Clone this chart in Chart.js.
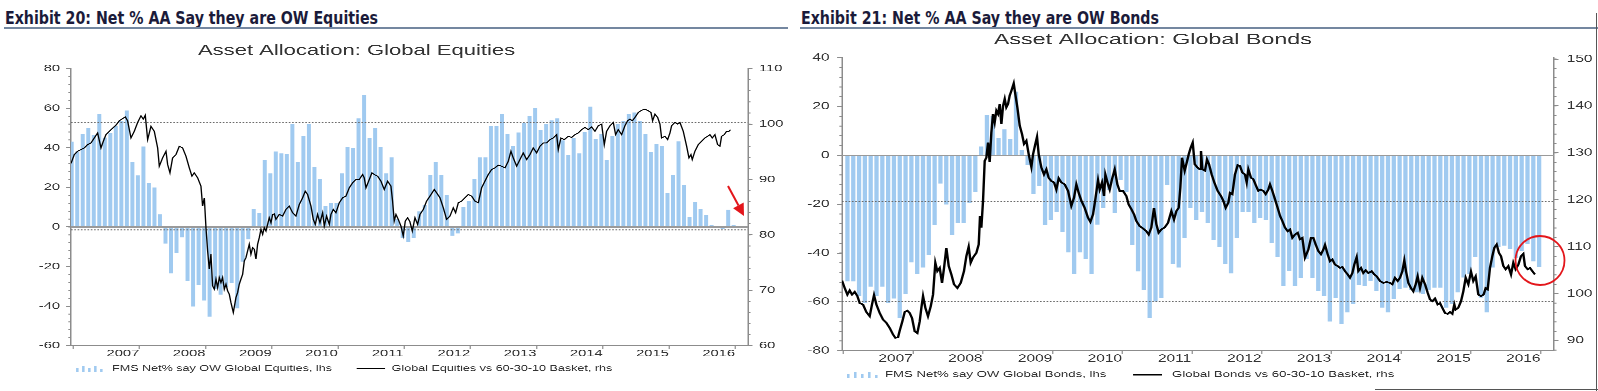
<!DOCTYPE html>
<html>
<head>
<meta charset="utf-8">
<title>FMS asset allocation</title>
<script src="https://cdn.jsdelivr.net/npm/chart.js@4.4.1/dist/chart.umd.min.js"></script>
<style>
  html, body { margin: 0; padding: 0; background: #fff; }
  body { position: relative; width: 1598px; height: 391px; overflow: hidden; }
  .exhibit { position: absolute; top: 9px; margin: 0; font: bold 18px/18px "Liberation Sans Narrow", "DejaVu Sans Condensed", "Liberation Sans", sans-serif; font-stretch: condensed; color: #1b1b3a; white-space: nowrap; transform-origin: 0 0; }
  .rule { position: absolute; top: 27px; height: 2px; background: #7487a0; }
  .plot { position: absolute; top: 30px; transform: scaleX(1.5); transform-origin: 0 0; }
  svg { position: absolute; left: 0; top: 0; pointer-events: none; }
</style>
</head>
<body>
<div class="exhibit" id="t20" style="left:5px">Exhibit 20: Net % AA Say they are OW Equities</div>
<div class="rule" style="left:4px;width:784px"></div>
<div class="exhibit" id="t21" style="left:801px">Exhibit 21: Net % AA Say they are OW Bonds</div>
<div class="rule" style="left:800px;width:798px"></div>

<canvas id="eq" class="plot" width="527" height="361" style="left:0"></canvas>
<canvas id="bd" class="plot" width="539" height="361" style="left:790px"></canvas>

<svg width="1598" height="391">
  <line x1="728" y1="186" x2="738.5" y2="205.5" stroke="#e3161b" stroke-width="2"/>
  <polygon points="744,216 733.1,208.2 743.7,202.6" fill="#e3161b"/>
  <circle cx="1540" cy="260.5" r="24.5" fill="none" stroke="#e3161b" stroke-width="1.8"/>
  <line x1="1596.5" y1="13" x2="1596.5" y2="391" stroke="#555" stroke-width="1"/>
  <line x1="1375" y1="389.5" x2="1598" y2="389.5" stroke="#555" stroke-width="1"/>
</svg>

<script>
const years = ['2007', '2008', '2009', '2010', '2011', '2012', '2013', '2014', '2015', '2016'];

const eqLeftTicks = [-60, -40, -20, 0, 20, 40, 60, 80];
const eqRightTicks = [60, 70, 80, 90, 100, 110];
const bondLeftTicks = [-80, -60, -40, -20, 0, 20, 40];
const bondRightTicks = [90, 100, 110, 120, 130, 140, 150];

// FMS net % of asset allocators overweight, one survey a month
const eqFirstSurvey = [2006, 9];
const eqNetOW = [
  43, 38, 46.7, 49.7, 46.5, 56.8, 45, 47.5, 51, 53.5,
  58.7, 32.5, 25.9, 40.5, 22, 19.8, 6.2, -8.2, -23.3, -13.1,
  -5.1, -27, -40, -29.1, -37, -45.1, -31, -34, -30, -28,
  -41, -17.3, -6.1, 8.8, 6.8, 33.7, 26.9, 38, 37, 36.7,
  51.9, 32.5, 45.8, 51.9, 30, 24.1, 10.6, 11.8, 12, 26.9,
  40.4, 39.6, 54.7, 66.7, 44.8, 49.7, 40.4, 26.9, 35, 4,
  -5.3, -7.3, -5.3, 7.7, 11, 26, 32.5, 26, 16, -4.2,
  -3.1, 10, 13, 24, 35, 35, 50.7, 50.7, 56.8, 46.7,
  40.6, 47.6, 52.2, 55.8, 59.8, 48.8, 51.8, 53.7, 54.7, 43.6,
  36.2, 44.8, 37, 48, 60.7, 44.4, 46.7, 33.6, 45.7, 52,
  53.5, 56.9, 57.7, 53.4, 46.7, 37.9, 41.7, 40.6, 17, 26,
  43.1, 21, 5, 12.6, 8.9, 5.9, 0.8, 0.3, -0.8, 8.6,
  0.8
];

const bondFirstSurvey = [2006, 10];
const bondNetOW = [
  -51.5, -51.5, -57.5, -60.3, -53.6, -57.6, -53.6, -60.3, -58.5, -66.6,
  -56.7, -43.7, -48.6, -45.8, -40.6, -28.5, -11.4, -20, -32.6, -27.6,
  -27.6, -19.3, -14.8, 3.5, 16.5, 16, 7, 10.5, 6.5, 26,
  2, -3.8, -15.6, -12.4, -28.5, -26.4, -23, -31.2, -39.6, -48.5,
  -39.6, -42.3, -48.5, -28.2, -21.4, -14, -23.4, -10, -15, -36.7,
  -47.4, -54.9, -66.6, -59.7, -58.4, -12, -44.4, -45.8, -33.7, -21.4,
  -26.2, -23.2, -27.5, -34.4, -37.3, -44.4, -48.2, -33.7, -23.2, -23.2,
  -27.5, -25.5, -26.2, -35.8, -41.4, -53.3, -47.1, -53.3, -50.1, -42.3,
  -50.1, -55.3, -57.4, -67.9, -58.4, -69, -64.2, -60.8, -52.9, -53.3,
  -51.2, -55.3, -62.2, -64.2, -58.8, -54.7, -54, -55, -56, -56.7,
  -55.1, -54, -54, -62.2, -60.8, -56, -49.9, -48.5, -41.4, -58.1,
  -64.2, -45.8, -37.5, -36.8, -38.2, -41.9, -38.9, -36.2, -43.3, -45.5
];

// dotted bands on the lhs
const eqBands = [52.7, -1.5];
const bondBands = [-19, -60];

// relative performance vs the 60-30-10 basket (rhs), [decimal year, index]
const eqRelative = [
  [2006.716,92.9],[2006.766,94.5],[2006.816,95.1],[2006.867,95.4],[2006.917,95.7],[2006.967,96.3],
  [2007.018,96.6],[2007.068,97.5],[2007.118,98.4],[2007.169,95.7],[2007.204,96.9],[2007.244,98.1],
  [2007.320,99.0],[2007.395,99.8],[2007.446,100.6],[2007.496,101.0],[2007.536,101.3],[2007.571,100.6],
  [2007.622,97.5],[2007.672,98.7],[2007.723,100.3],[2007.773,101.5],[2007.808,100.9],[2007.838,101.6],
  [2007.874,97.2],[2007.924,99.6],[2007.974,98.7],[2008.025,95.7],[2008.050,92.4],[2008.100,93.9],
  [2008.151,95.1],[2008.176,92.7],[2008.211,91.2],[2008.251,93.9],[2008.302,94.5],[2008.352,96.0],
  [2008.402,95.7],[2008.453,94.2],[2008.503,92.1],[2008.543,90.6],[2008.578,91.2],[2008.629,90.3],
  [2008.679,88.8],[2008.704,85.2],[2008.730,86.7],[2008.755,81.3],[2008.780,77.1],[2008.805,73.8],
  [2008.830,76.5],[2008.855,70.8],[2008.881,70.2],[2008.906,72.0],[2008.931,70.5],[2008.956,72.3],
  [2008.981,71.4],[2009.006,72.3],[2009.032,70.2],[2009.057,71.1],[2009.082,69.9],[2009.107,69.3],
  [2009.132,67.8],[2009.168,66.0],[2009.208,68.7],[2009.233,69.6],[2009.258,71.1],[2009.283,72.0],
  [2009.309,72.9],[2009.334,75.3],[2009.359,75.9],[2009.384,77.1],[2009.409,78.3],[2009.434,76.5],
  [2009.460,77.7],[2009.485,77.4],[2009.510,75.6],[2009.535,78.3],[2009.560,79.5],[2009.586,81.0],
  [2009.611,80.1],[2009.636,81.3],[2009.661,80.7],[2009.686,81.9],[2009.711,83.1],[2009.737,82.2],
  [2009.762,83.7],[2009.787,83.8],[2009.812,82.8],[2009.862,83.7],[2009.913,83.4],[2009.963,84.6],
  [2010.013,85.2],[2010.064,84.0],[2010.114,83.4],[2010.165,85.5],[2010.215,86.7],[2010.255,87.9],
  [2010.290,87.3],[2010.341,85.2],[2010.376,82.8],[2010.406,81.9],[2010.441,83.7],[2010.477,82.2],
  [2010.517,84.0],[2010.542,81.6],[2010.577,83.4],[2010.618,81.9],[2010.643,83.7],[2010.678,84.6],
  [2010.718,84.0],[2010.769,85.8],[2010.819,86.7],[2010.869,87.0],[2010.920,88.5],[2010.970,89.4],
  [2011.020,90.0],[2011.071,90.0],[2011.121,90.9],[2011.146,90.3],[2011.172,88.5],[2011.222,90.0],
  [2011.262,91.2],[2011.297,90.9],[2011.348,90.6],[2011.398,89.7],[2011.448,88.2],[2011.499,89.7],
  [2011.549,88.8],[2011.574,86.1],[2011.599,82.5],[2011.625,83.7],[2011.660,82.8],[2011.700,81.6],
  [2011.735,79.8],[2011.766,82.5],[2011.801,83.1],[2011.835,82.4],[2011.872,80.7],[2011.912,83.1],
  [2011.952,81.9],[2011.988,83.7],[2012.038,84.6],[2012.088,86.1],[2012.139,87.0],[2012.204,88.2],
  [2012.239,87.6],[2012.290,86.7],[2012.340,84.9],[2012.390,82.8],[2012.441,83.4],[2012.491,84.9],
  [2012.526,84.0],[2012.567,85.8],[2012.617,86.1],[2012.667,86.7],[2012.718,87.3],[2012.768,87.0],
  [2012.818,86.1],[2012.869,85.8],[2012.919,88.5],[2012.969,89.7],[2013.020,90.9],[2013.070,91.8],
  [2013.120,92.1],[2013.171,92.6],[2013.221,92.4],[2013.272,92.1],[2013.322,93.3],[2013.362,95.1],
  [2013.397,93.9],[2013.448,92.4],[2013.498,93.6],[2013.548,94.8],[2013.599,93.6],[2013.649,94.5],
  [2013.699,95.7],[2013.750,94.8],[2013.800,96.0],[2013.851,96.6],[2013.901,96.6],[2013.951,97.2],
  [2014.002,97.5],[2014.052,98.1],[2014.077,95.4],[2014.117,97.5],[2014.168,97.2],[2014.228,97.8],
  [2014.279,97.6],[2014.329,98.1],[2014.379,98.4],[2014.430,99.0],[2014.480,99.4],[2014.530,99.0],
  [2014.581,99.5],[2014.631,98.7],[2014.681,99.7],[2014.732,100.0],[2014.772,96.3],[2014.807,98.7],
  [2014.858,99.7],[2014.908,100.3],[2014.943,98.1],[2014.983,99.0],[2015.034,98.1],[2015.084,99.7],
  [2015.124,100.6],[2015.160,100.9],[2015.195,100.6],[2015.235,101.2],[2015.286,102.1],[2015.336,102.5],
  [2015.386,102.7],[2015.437,102.4],[2015.477,102.1],[2015.502,100.6],[2015.537,101.8],[2015.578,101.2],
  [2015.613,100.0],[2015.638,97.5],[2015.688,97.8],[2015.729,97.2],[2015.764,98.4],[2015.789,99.7],
  [2015.839,100.3],[2015.880,100.0],[2015.915,100.3],[2015.965,98.7],[2016.016,96.0],[2016.051,93.9],
  [2016.081,94.5],[2016.101,93.6],[2016.141,95.1],[2016.192,96.3],[2016.242,96.9],[2016.292,97.5],
  [2016.333,97.8],[2016.368,98.1],[2016.403,97.5],[2016.443,98.1],[2016.484,96.3],[2016.519,96.0],
  [2016.544,97.8],[2016.584,98.1],[2016.620,98.7],[2016.655,98.7],[2016.680,99.0]
];

const bondRelative = [
  [2006.732,102.8],[2006.771,101.2],[2006.809,99.8],[2006.842,100.7],[2006.876,99.8],[2006.914,100.4],
  [2006.952,99.5],[2006.986,98.0],[2007.033,97.7],[2007.081,96.1],[2007.129,95.2],[2007.162,97.7],
  [2007.191,99.7],[2007.225,97.7],[2007.272,95.9],[2007.320,94.5],[2007.368,93.8],[2007.416,92.7],
  [2007.464,91.3],[2007.497,90.6],[2007.535,90.7],[2007.559,92.1],[2007.597,94.1],[2007.631,96.1],
  [2007.669,96.4],[2007.702,95.9],[2007.736,94.8],[2007.774,92.0],[2007.812,91.6],[2007.846,94.1],
  [2007.870,97.0],[2007.894,99.5],[2007.927,97.0],[2007.965,95.2],[2008.004,97.3],[2008.037,99.8],
  [2008.070,106.6],[2008.099,104.8],[2008.133,105.5],[2008.166,102.3],[2008.195,105.5],[2008.228,109.8],
  [2008.262,105.9],[2008.300,104.1],[2008.338,102.0],[2008.386,101.2],[2008.434,102.3],[2008.481,104.8],
  [2008.515,108.0],[2008.548,110.0],[2008.577,106.6],[2008.610,107.7],[2008.658,108.7],[2008.692,110.5],
  [2008.711,116.6],[2008.730,114.1],[2008.754,119.8],[2008.778,128.3],[2008.802,129.0],[2008.826,132.2],
  [2008.849,128.0],[2008.873,134.3],[2008.897,138.3],[2008.921,136.5],[2008.945,139.0],[2008.969,138.3],
  [2008.993,140.4],[2009.017,136.1],[2009.041,140.0],[2009.065,141.5],[2009.088,139.7],[2009.112,140.4],
  [2009.136,142.2],[2009.160,143.2],[2009.194,144.8],[2009.217,142.5],[2009.246,139.7],[2009.280,135.8],
  [2009.313,134.0],[2009.342,131.9],[2009.375,132.6],[2009.409,129.7],[2009.447,127.0],[2009.471,129.7],
  [2009.504,131.9],[2009.528,133.4],[2009.552,129.7],[2009.590,126.9],[2009.628,125.4],[2009.662,126.5],
  [2009.695,124.7],[2009.734,124.0],[2009.772,123.7],[2009.805,122.2],[2009.839,124.6],[2009.877,123.7],
  [2009.925,123.3],[2009.973,121.9],[2010.020,118.7],[2010.059,120.5],[2010.092,123.3],[2010.125,121.5],
  [2010.164,119.8],[2010.211,118.3],[2010.259,116.2],[2010.293,115.3],[2010.331,116.9],[2010.364,120.1],
  [2010.403,124.2],[2010.427,122.2],[2010.460,123.7],[2010.489,120.8],[2010.508,125.4],[2010.546,123.3],
  [2010.570,122.2],[2010.603,124.4],[2010.642,126.5],[2010.680,123.3],[2010.713,121.9],[2010.761,121.9],
  [2010.809,120.8],[2010.842,119.0],[2010.881,118.0],[2010.919,116.9],[2010.952,115.5],[2011.000,114.4],
  [2011.048,113.9],[2011.096,113.3],[2011.129,112.6],[2011.167,114.1],[2011.205,118.3],[2011.239,114.8],
  [2011.272,113.0],[2011.311,113.7],[2011.358,114.1],[2011.406,115.1],[2011.454,117.6],[2011.492,115.8],
  [2011.526,117.6],[2011.559,118.3],[2011.583,122.6],[2011.607,129.0],[2011.645,126.2],[2011.674,127.9],
  [2011.703,129.7],[2011.731,131.1],[2011.760,132.2],[2011.789,127.6],[2011.827,126.9],[2011.860,126.5],
  [2011.879,130.4],[2011.898,126.5],[2011.936,126.2],[2011.965,128.6],[2011.994,127.6],[2012.032,125.4],
  [2012.070,123.7],[2012.118,121.9],[2012.166,120.8],[2012.199,119.8],[2012.233,118.3],[2012.271,119.4],
  [2012.295,121.5],[2012.328,121.2],[2012.366,125.4],[2012.405,127.4],[2012.438,127.2],[2012.472,125.8],
  [2012.510,125.4],[2012.534,123.7],[2012.558,126.5],[2012.596,124.7],[2012.629,124.4],[2012.668,123.0],
  [2012.701,121.9],[2012.734,122.2],[2012.773,121.9],[2012.806,121.2],[2012.844,122.2],[2012.868,123.3],
  [2012.902,121.9],[2012.940,120.1],[2012.978,118.3],[2013.012,116.6],[2013.045,115.5],[2013.083,114.1],
  [2013.122,113.3],[2013.155,113.7],[2013.189,111.9],[2013.227,112.6],[2013.265,113.0],[2013.298,111.6],
  [2013.332,111.9],[2013.370,107.7],[2013.418,109.4],[2013.456,111.9],[2013.490,111.9],[2013.523,110.5],
  [2013.561,109.1],[2013.599,108.4],[2013.633,109.4],[2013.657,110.4],[2013.695,108.4],[2013.729,106.9],
  [2013.762,107.3],[2013.800,106.2],[2013.838,105.9],[2013.872,105.5],[2013.905,105.7],[2013.944,104.8],
  [2013.982,104.1],[2014.015,103.4],[2014.049,104.4],[2014.077,106.2],[2014.111,107.8],[2014.135,104.8],
  [2014.173,105.5],[2014.206,104.4],[2014.240,105.0],[2014.278,104.4],[2014.326,104.8],[2014.364,104.1],
  [2014.398,103.7],[2014.445,102.7],[2014.493,102.3],[2014.541,102.5],[2014.589,102.3],[2014.622,102.0],
  [2014.660,103.4],[2014.699,102.7],[2014.732,103.4],[2014.766,104.8],[2014.794,107.1],[2014.818,104.8],
  [2014.852,102.3],[2014.890,101.2],[2014.923,100.5],[2014.957,102.0],[2014.985,103.7],[2015.019,101.2],
  [2015.052,103.4],[2015.091,102.0],[2015.129,100.2],[2015.162,98.8],[2015.196,98.4],[2015.234,99.0],
  [2015.272,97.7],[2015.306,98.0],[2015.339,97.0],[2015.377,95.9],[2015.415,95.7],[2015.449,96.1],
  [2015.482,95.7],[2015.511,97.7],[2015.530,96.6],[2015.568,97.0],[2015.607,98.4],[2015.640,100.5],
  [2015.674,103.4],[2015.712,102.0],[2015.750,104.7],[2015.783,102.7],[2015.817,103.7],[2015.855,99.8],
  [2015.893,99.5],[2015.931,99.8],[2015.960,101.2],[2015.989,100.9],[2016.022,105.5],[2016.056,108.0],
  [2016.085,109.8],[2016.118,110.5],[2016.151,108.7],[2016.180,108.0],[2016.214,105.9],[2016.247,105.2],
  [2016.285,105.9],[2016.324,104.1],[2016.357,106.6],[2016.390,105.2],[2016.429,106.2],[2016.467,108.0],
  [2016.500,108.5],[2016.524,105.9],[2016.563,105.2],[2016.596,105.5],[2016.630,104.8],[2016.668,104.1]
];

const eqLegend = ['FMS Net% say OW Global Equities, lhs', 'Global Equities vs 60-30-10 Basket, rhs'];
const bondLegend = ['FMS Net% say OW Global Bonds, lhs', 'Global Bonds vs 60-30-10 Basket, rhs'];

const FONT = '"Liberation Sans", Arial, sans-serif';
const BAR = '#a0caf0';
const AXIS = '#8c8c8c';
const TEXT = '#333';

// surveys are dated a little after mid-month
function surveyDate(first, k) {
  return first[0] + (first[1] - 1 + k + 0.72) / 12;
}

function minorTicks(chart, id, step, len) {
  const s = chart.scales[id], ctx = chart.ctx;
  const left = s.position === 'left';
  const x0 = left ? s.right : s.left;
  ctx.save();
  ctx.strokeStyle = AXIS;
  ctx.lineWidth = 1;
  ctx.beginPath();
  for (let i = Math.ceil(s.min / step); i * step <= s.max + 1e-9; i++) {
    const y = s.getPixelForValue(i * step);
    ctx.moveTo(x0, y);
    ctx.lineTo(left ? x0 - len : x0 + len, y);
  }
  ctx.stroke();
  ctx.restore();
}

const decor = {
  id: 'decor',
  afterDatasetDraw(chart, args, o) {
    if (args.meta.type !== 'bar') return;
    const ctx = chart.ctx, a = chart.chartArea, y = chart.scales.y;
    ctx.save();
    ctx.strokeStyle = '#9a9a9a';
    ctx.lineWidth = 1.3;
    ctx.beginPath();
    ctx.moveTo(a.left, y.getPixelForValue(0));
    ctx.lineTo(a.right, y.getPixelForValue(0));
    ctx.stroke();
    ctx.strokeStyle = '#6a6a6a';
    ctx.lineWidth = 1;
    ctx.setLineDash([1.1, 1.1]);
    o.bands.forEach(v => {
      const py = y.getPixelForValue(v);
      ctx.beginPath();
      ctx.moveTo(a.left, py);
      ctx.lineTo(a.right, py);
      ctx.stroke();
    });
    ctx.restore();
  },
  afterDraw(chart, args, o) {
    const ctx = chart.ctx, L = o.legend;
    minorTicks(chart, 'y', 4, 1.8);
    minorTicks(chart, 'y1', 2, 1.7);
    ctx.save();
    ctx.fillStyle = TEXT;
    ctx.font = o.titleSize + 'px ' + FONT;
    ctx.textAlign = 'center';
    ctx.textBaseline = 'alphabetic';
    ctx.fillText(o.title, o.titleX, o.titleY);

    // legend
    ctx.fillStyle = BAR;
    [4, 6, 4, 6, 3].forEach((h, i) => ctx.fillRect(L.barX + i * L.barGap, L.y + 3 - h, 1.7, h));
    ctx.fillStyle = TEXT;
    ctx.font = L.size + 'px ' + FONT;
    ctx.textAlign = 'left';
    ctx.textBaseline = 'middle';
    ctx.fillText(L.labels[0], L.textX, L.y);
    ctx.fillText(L.labels[1], L.text2X, L.y);
    ctx.strokeStyle = '#000';
    ctx.lineWidth = L.lineW;
    ctx.beginPath();
    ctx.moveTo(L.lineX0, L.y);
    ctx.lineTo(L.lineX1, L.y);
    ctx.stroke();
    ctx.restore();
  }
};

function buildChart(id, c) {
  return new Chart(document.getElementById(id), {
    type: 'bar',
    data: {
      datasets: [
        {
          type: 'line',
          data: c.line.map(p => ({ x: p[0], y: p[1] })),
          yAxisID: 'y1',
          borderColor: '#000',
          borderWidth: c.lineWidth,
          pointRadius: 0,
          tension: 0,
          order: 0
        },
        {
          type: 'bar',
          data: c.bars.map((v, k) => ({ x: surveyDate(c.first, k), y: v })),
          yAxisID: 'y',
          backgroundColor: BAR,
          borderWidth: 0,
          barThickness: c.barWidth,
          order: 1
        }
      ]
    },
    options: {
      responsive: false,
      animation: false,
      devicePixelRatio: 3,
      events: [],
      layout: { padding: { left: 0, right: 0, top: c.area.top, bottom: 0 } },
      plugins: {
        legend: { display: false },
        tooltip: { enabled: false },
        decor: c.decor
      },
      scales: {
        x: {
          type: 'linear',
          min: c.xMin,
          max: c.xMax,
          offset: false,
          afterBuildTicks: s => { s.ticks = years.flatMap(y => [{ value: +y }, { value: +y + 0.5 }]); },
          afterFit: s => { s.height = c.area.xh; },
          ticks: {
            autoSkip: false, maxRotation: 0, minRotation: 0, padding: 0,
            color: TEXT, font: { size: c.tick, lineHeight: 1 },
            callback: v => (v % 1 ? String(Math.floor(v)) : '')
          },
          grid: {
            drawOnChartArea: false, tickLength: 3, tickWidth: 0.8,
            tickColor: ctx => (ctx.tick && ctx.tick.value % 1 ? 'rgba(0,0,0,0)' : AXIS)
          },
          border: { color: AXIS, width: 1.2 }
        },
        y: {
          position: 'left',
          min: c.leftTicks[0],
          max: c.leftTicks[c.leftTicks.length - 1],
          afterBuildTicks: s => { s.ticks = c.leftTicks.map(v => ({ value: v })); },
          afterFit: s => { s.width = c.area.left; },
          ticks: { padding: c.yPad, color: TEXT, font: { size: c.tick } },
          grid: { drawOnChartArea: false, tickLength: 3.3, tickColor: AXIS, tickWidth: 1 },
          border: { color: AXIS, width: 1 }
        },
        y1: {
          position: 'right',
          min: c.rMin,
          max: c.rMax,
          afterBuildTicks: s => { s.ticks = c.rightTicks.map(v => ({ value: v })); },
          afterFit: s => { s.width = c.area.right; },
          ticks: { padding: c.rPad, color: TEXT, font: { size: c.tick } },
          grid: { drawOnChartArea: false, tickLength: 3, tickColor: AXIS, tickWidth: 1 },
          border: { color: AXIS, width: 1 }
        }
      }
    },
    plugins: [decor]
  });
}

Chart.defaults.font.family = FONT;

buildChart('eq', {
  bars: eqNetOW, first: eqFirstSurvey, line: eqRelative,
  leftTicks: eqLeftTicks, rightTicks: eqRightTicks, rMin: 60, rMax: 110,
  xMin: 2006.716, xMax: 2016.943,
  area: { left: 47.33, right: 28.33, top: 38.7, xh: 45.3 },
  tick: 9.8, yPad: 4, rPad: 4.3, barWidth: 2, lineWidth: 0.9,
  decor: {
    bands: eqBands,
    title: 'Asset Allocation: Global Equities', titleX: 237.7, titleY: 25, titleSize: 14.7,
    legend: { labels: eqLegend, y: 338.7, size: 8.4, barX: 50.7, barGap: 4, textX: 74.7,
              lineX0: 237.8, lineX1: 256.7, text2X: 261.1, lineW: 1 }
  }
});

buildChart('bd', {
  bars: bondNetOW, first: bondFirstSurvey, line: bondRelative,
  leftTicks: bondLeftTicks, rightTicks: bondRightTicks, rMin: 87.86, rMax: 150.28,
  xMin: 2006.732, xMax: 2016.94,
  area: { left: 34.67, right: 29.67, top: 27.7, xh: 40.3 },
  tick: 10.3, yPad: 5, rPad: 5.5, barWidth: 2.2, lineWidth: 1.6,
  decor: {
    bands: bondBands,
    title: 'Asset Allocation: Global Bonds', titleX: 241.9, titleY: 14.3, titleSize: 15.5,
    legend: { labels: bondLegend, y: 344.7, size: 8.8, barX: 38, barGap: 4.67, textX: 63.3,
              lineX0: 228.7, lineX1: 248, text2X: 254.7, lineW: 1.6 }
  }
});

// squeeze the exhibit headings to the width they have in the report
function fitTitle(id, width) {
  const el = document.getElementById(id);
  el.style.transform = 'scaleX(' + (width / el.getBoundingClientRect().width) + ')';
}
fitTitle('t20', 373);
fitTitle('t21', 358);
</script>
</body>
</html>
